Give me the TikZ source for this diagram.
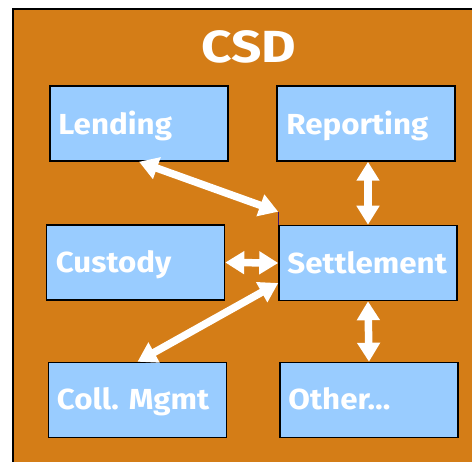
\documentclass[tikz,border=0pt]{standalone}
\usepackage{fontspec}
\setmainfont{Fira Sans}[Ligatures=NoCommon, FakeStretch=1.08]
\newfontfamily\titlefont{Fira Sans}[Ligatures=NoCommon, FakeStretch=1.18]
\usetikzlibrary{arrows.meta,calc}
\definecolor{csdorange}{RGB}{212,125,23}
\definecolor{boxblue}{RGB}{153,204,255}
\definecolor{edgepurple}{RGB}{60,20,110}
\tikzset{
  modbox/.style={draw=black, line width=1.5pt, fill=boxblue, minimum width=178pt, minimum height=75pt, inner sep=0pt},
  lbl/.style={anchor=base west, text=white, font=\fontsize{29}{32}\selectfont\bfseries, inner sep=0pt},
  wlink/.style={draw=white, line width=7.5pt, {Triangle[width=22pt,length=19pt]}-{Triangle[width=22pt,length=19pt]}, shorten <=0pt, shorten >=0pt}
}
\begin{document}
\begin{tikzpicture}[x=1pt,y=-1pt]
\useasboundingbox (0,0) rectangle (472,462);
\clip (0,0) rectangle (472,462);
\fill[white] (0,0) rectangle (472,462);
\draw[fill=csdorange, draw=black, line width=1.5pt] (13,9) rectangle (480,470);
\node[text=white, font=\titlefont\fontsize{45}{48}\selectfont\bfseries, inner sep=0pt, anchor=base] (title) at (249,63) {CSD};

\node[modbox] (lend) at (139,123.5) {};
\node[modbox] (rep) at (366,123.5) {};
\node[modbox] (cust) at (135.5,262.5) {};
\node[modbox] (set) at (368,263) {};
\node[modbox] (coll) at (137.5,400) {};
\node[modbox] (oth) at (369,400) {};

\node[lbl] (tlend) at ($(lend.west)+(9,11)$) {Lending};
\node[lbl] (trep) at ($(rep.west)+(10,11)$) {Reporting};
\node[lbl] (tcust) at ($(cust.west)+(10,10.5)$) {Custody};
\node[lbl] (tset) at ($(set.west)+(9,10.5)$) {Settlement};
\node[lbl] (tcoll) at ($(coll.west)+(9,10)$) {Coll. Mgmt};
\node[lbl] (toth) at ($(oth.west)+(9,10)$) {Other…};

\coordinate (setnw) at ($(set.north west)+(0,-13)$);
\coordinate (setlw) at ($(set.west)+(0,20)$);
\draw[edgepurple, line width=1pt] (setnw) -- (set.north west);

\draw[wlink] (lend.south) -- (setnw);
\draw[wlink] (set.north) -- (set.north |- rep.south);
\draw[wlink] (cust.east) -- (set.west);
\draw[wlink] (setlw) -- (coll.north);
\draw[wlink] (set.south) -- (oth.north);
\end{tikzpicture}
\end{document}
